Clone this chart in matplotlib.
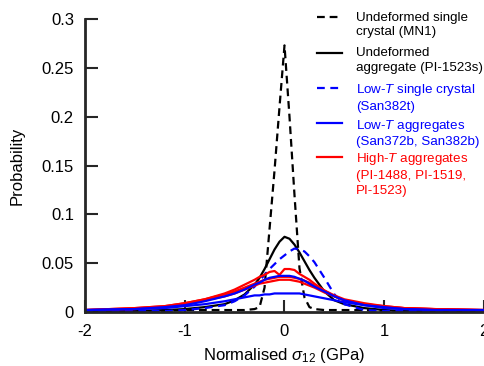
import matplotlib
matplotlib.use("Agg")
import matplotlib.pyplot as plt
from matplotlib.lines import Line2D

plt.rcParams['font.family'] = ['Liberation Sans', 'DejaVu Sans']
plt.rcParams['mathtext.fontset'] = 'custom'
plt.rcParams['mathtext.rm'] = 'Liberation Sans'
plt.rcParams['mathtext.it'] = 'Liberation Sans:italic'

# ---- data ----
x = [-2, -1.5, -1.2, -1, -0.8, -0.6, -0.5, -0.4, -0.3, -0.25, -0.2, -0.15, -0.1, -0.05,
     0, 0.05, 0.1, 0.15, 0.2, 0.25, 0.3, 0.4, 0.5, 0.6, 0.8, 1, 1.2, 1.5, 2]

mn1 = [0.001, 0.001, 0.001, 0.002, 0.002, 0.002, 0.002, 0.002, 0.003, 0.005, 0.025, 0.085, 0.145, 0.21,
       0.273, 0.2, 0.12, 0.045, 0.015, 0.005, 0.003, 0.002, 0.002, 0.002, 0.002, 0.001, 0.001, 0.001, 0.001]
pi1523s = [0.0005, 0.001, 0.002, 0.003, 0.005, 0.008, 0.012, 0.018, 0.028, 0.035, 0.044, 0.054, 0.064, 0.072,
           0.077, 0.075, 0.069, 0.061, 0.052, 0.043, 0.035, 0.021, 0.012, 0.008, 0.004, 0.002, 0.001, 0.0005, 0.0003]
san382t = [0.0005, 0.001, 0.001, 0.002, 0.004, 0.007, 0.011, 0.017, 0.026, 0.032, 0.038, 0.044, 0.049, 0.054,
           0.058, 0.062, 0.065, 0.064, 0.062, 0.057, 0.051, 0.035, 0.018, 0.008, 0.002, 0.001, 0.001, 0.001, 0.001]
pi1488 = [0.002, 0.004, 0.006, 0.009, 0.013, 0.019, 0.023, 0.028, 0.033, 0.036, 0.038, 0.041, 0.042, 0.038,
          0.044, 0.044, 0.043, 0.039, 0.036, 0.033, 0.029, 0.022, 0.016, 0.012, 0.008, 0.005, 0.004, 0.003, 0.002]
pi1519 = [0.002, 0.004, 0.006, 0.009, 0.013, 0.018, 0.021, 0.025, 0.029, 0.031, 0.033, 0.034, 0.035, 0.036,
          0.036, 0.036, 0.035, 0.034, 0.032, 0.030, 0.027, 0.022, 0.017, 0.013, 0.009, 0.006, 0.004, 0.003, 0.002]
pi1523 = [0.002, 0.003, 0.005, 0.008, 0.012, 0.016, 0.019, 0.023, 0.027, 0.029, 0.030, 0.031, 0.032, 0.033,
          0.033, 0.033, 0.032, 0.031, 0.029, 0.027, 0.025, 0.020, 0.016, 0.012, 0.008, 0.006, 0.004, 0.003, 0.002]
san372b = [0.002, 0.003, 0.005, 0.007, 0.011, 0.016, 0.019, 0.023, 0.028, 0.030, 0.033, 0.035, 0.036, 0.037,
           0.037, 0.037, 0.036, 0.034, 0.032, 0.029, 0.026, 0.021, 0.016, 0.012, 0.007, 0.005, 0.003, 0.002, 0.002]
san382b = [0.002, 0.003, 0.004, 0.006, 0.008, 0.011, 0.013, 0.015, 0.017, 0.017, 0.018, 0.018, 0.019, 0.019,
           0.019, 0.019, 0.019, 0.019, 0.018, 0.017, 0.016, 0.014, 0.012, 0.010, 0.007, 0.004, 0.003, 0.002, 0.002]

legend_labels = ["Undeformed single\ncrystal (MN1)",
                 "Undeformed\naggregate (PI-1523s)",
                 "Low-$T$ single crystal\n(San382t)",
                 "Low-$T$ aggregates\n(San372b, San382b)",
                 "High-$T$ aggregates\n(PI-1488, PI-1519,\nPI-1523)"]

xticks = [-2, -1, 0, 1, 2]
xticklabels = ["-2", "-1", "0", "1", "2"]
yticks = [0, 0.05, 0.1, 0.15, 0.2, 0.25, 0.3]
yticklabels = ["0", "0.05", "0.1", "0.15", "0.2", "0.25", "0.3"]

# ---- figure ----
W, H = 485, 366
fig = plt.figure(figsize=(W / 100, H / 100), dpi=100)
ax = fig.add_axes([85 / W, (H - 312) / H, (484 - 85) / W, (312 - 19) / H])

lw = 1.6
black_dash = dict(color='black', lw=lw, linestyle=(0, (3.5, 2.2)))
black_solid = dict(color='black', lw=lw)
blue_dash = dict(color='#0000FF', lw=lw, linestyle=(0, (3.5, 2.5)))
blue_solid = dict(color='#0000FF', lw=lw)
red_solid = dict(color='#FF0000', lw=lw)

ax.plot(x, mn1, **black_dash)
ax.plot(x, pi1523s, **black_solid)
ax.plot(x, san382t, **blue_dash)
ax.plot(x, pi1488, **red_solid)
ax.plot(x, pi1519, **red_solid)
ax.plot(x, pi1523, **red_solid)
ax.plot(x, san372b, **blue_solid)
ax.plot(x, san382b, **blue_solid)

ax.set_xlim(-2, 2)
ax.set_ylim(0, 0.3)
ax.set_xticks(xticks)
ax.set_xticklabels(xticklabels)
ax.set_yticks(yticks)
ax.set_yticklabels(yticklabels)

spc = '#262626'
for s in ['top', 'right']:
    ax.spines[s].set_visible(False)
for s in ['left', 'bottom']:
    ax.spines[s].set_linewidth(2.0)
    ax.spines[s].set_color(spc)
ax.tick_params(direction='in', length=9, width=1.5, color=spc, labelsize=12,
               labelcolor='black')
ax.tick_params(axis='y', pad=8)
ax.tick_params(axis='x', pad=9)
ax.set_ylabel("Probability", fontsize=12, labelpad=12)
ax.set_xlabel("Normalised $\\sigma_{12}$ (GPa)", fontsize=12, labelpad=5)

# ---- legend (manual) ----
styles = [black_dash, black_solid, blue_dash, blue_solid, red_solid]
text_colors = ['black', 'black', '#0000FF', '#0000FF', '#FF0000']
handle_y = [17, 53, 88, 123, 157]
for lab, st, tc, hy in zip(legend_labels, styles, text_colors, handle_y):
    fig.add_artist(Line2D([317 / W, 342 / W], [1 - hy / H, 1 - hy / H],
                          transform=fig.transFigure, **st))
    fig.text(356 / W, 1 - (hy - 5.5) / H, lab, color=tc, fontsize=9.6,
             va='top', ha='left', linespacing=1.28)

fig.savefig("out.png", dpi=100)
